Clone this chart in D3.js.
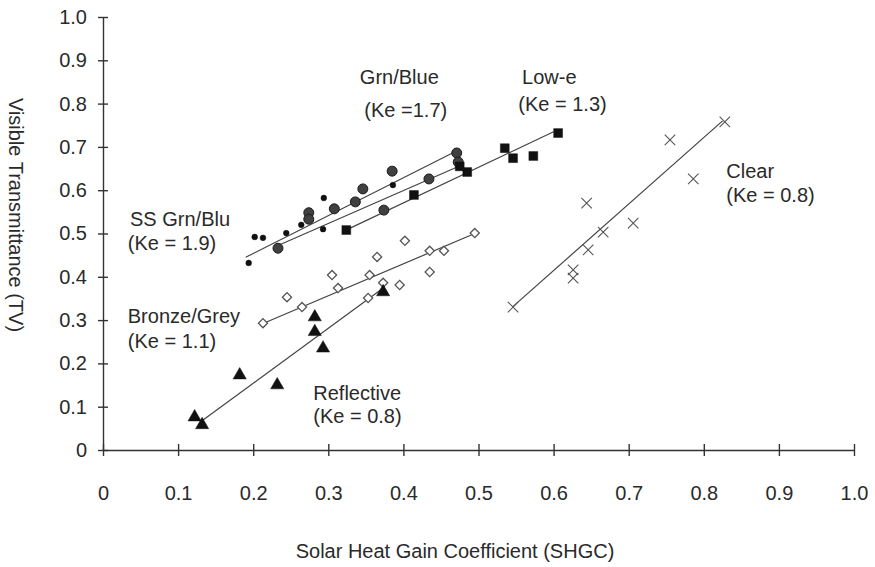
<!DOCTYPE html>
<html>
<head>
  <meta charset="utf-8">
  <title>Visible Transmittance vs. SHGC</title>
  <script src="https://d3js.org/d3.v7.min.js"></script>
  <style>
    body {
      margin: 0;
      background: #fff;
      font-family: "Liberation Sans", Arial, sans-serif;
    }
    .axis path, .axis line {
      stroke: #333;
      stroke-width: 1.4px;
    }
    .axis text {
      font-size: 20px;
      fill: #2a2a2a;
      font-family: "Liberation Sans", Arial, sans-serif;
    }
    .fit-line {
      stroke: #444;
      stroke-width: 1.2px;
    }
    .note {
      font-size: 20px;
      fill: #2a2a2a;
    }
    .axis-title {
      font-size: 20px;
      fill: #2a2a2a;
    }
  </style>
</head>
<body>
  <div id="chart"></div>

  <script>
    // values (SHGC, TV)
    const ssGrnBlu = [
      [0.194, 0.432], [0.202, 0.492], [0.213, 0.490], [0.244, 0.501],
      [0.264, 0.520], [0.293, 0.510], [0.294, 0.582], [0.386, 0.612]
    ];
    const grnBlue = [
      [0.233, 0.466], [0.274, 0.548], [0.274, 0.533], [0.308, 0.557],
      [0.336, 0.573], [0.346, 0.603], [0.385, 0.644], [0.434, 0.626],
      [0.471, 0.686], [0.473, 0.665], [0.374, 0.554]
    ];
    const lowE = [
      [0.324, 0.508], [0.414, 0.589], [0.485, 0.642], [0.475, 0.655],
      [0.535, 0.697], [0.546, 0.674], [0.573, 0.679], [0.606, 0.732]
    ];
    const bronzeGrey = [
      [0.213, 0.293], [0.245, 0.353], [0.265, 0.330], [0.305, 0.404],
      [0.313, 0.374], [0.355, 0.404], [0.365, 0.446], [0.373, 0.386],
      [0.395, 0.381], [0.402, 0.483], [0.435, 0.460], [0.454, 0.460],
      [0.435, 0.411], [0.495, 0.501], [0.353, 0.351]
    ];
    const reflective = [
      [0.122, 0.076], [0.132, 0.058], [0.182, 0.173], [0.232, 0.150],
      [0.282, 0.307], [0.282, 0.273], [0.293, 0.235], [0.373, 0.365]
    ];
    const clear = [
      [0.546, 0.330], [0.626, 0.397], [0.626, 0.416], [0.646, 0.462],
      [0.666, 0.503], [0.706, 0.524], [0.644, 0.570], [0.786, 0.626],
      [0.755, 0.716], [0.828, 0.758]
    ];

    // fitted lines, start and end point of each
    const fitLines = [
      [[0.190, 0.445], [0.470, 0.690]],   // SS Grn/Blu
      [[0.230, 0.470], [0.480, 0.660]],   // Grn/Blue
      [[0.320, 0.505], [0.600, 0.735]],   // Low-e
      [[0.210, 0.290], [0.495, 0.500]],   // Bronze/Grey
      [[0.130, 0.065], [0.370, 0.370]],   // Reflective
      [[0.545, 0.330], [0.825, 0.760]]    // Clear
    ];

    // annotation text and where it sits, in data units
    const noteTexts = [
      "Grn/Blue", "(Ke =1.7)", "Low-e", "(Ke = 1.3)", "Clear", "(Ke = 0.8)",
      "SS Grn/Blu", "(Ke = 1.9)", "Bronze/Grey", "(Ke = 1.1)", "Reflective", "(Ke = 0.8)"
    ];
    const noteX = [0.342, 0.348, 0.558, 0.553, 0.830, 0.830, 0.036, 0.033, 0.033, 0.033, 0.280, 0.280];
    const noteY = [0.845, 0.770, 0.845, 0.783, 0.628, 0.573, 0.517, 0.462, 0.293, 0.236, 0.115, 0.062];

    const xTicks = [0, 0.1, 0.2, 0.3, 0.4, 0.5, 0.6, 0.7, 0.8, 0.9, 1.0];
    const xTickLabels = ["0", "0.1", "0.2", "0.3", "0.4", "0.5", "0.6", "0.7", "0.8", "0.9", "1.0"];
    const yTicks = [0, 0.1, 0.2, 0.3, 0.4, 0.5, 0.6, 0.7, 0.8, 0.9, 1.0];
    const yTickLabels = ["0", "0.1", "0.2", "0.3", "0.4", "0.5", "0.6", "0.7", "0.8", "0.9", "1.0"];

    const W = 875, H = 567;
    const margin = { top: 17, right: 21, bottom: 117, left: 103 };

    const svg = d3.select("#chart")
      .append("svg")
      .attr("width", W)
      .attr("height", H);

    const x = d3.scaleLinear().domain([0, 1]).range([margin.left, W - margin.right]);
    const y = d3.scaleLinear().domain([0, 1]).range([H - margin.bottom, margin.top]);

    // y axis, ticks crossing the line
    const yAxis = svg.append("g")
      .attr("class", "axis")
      .attr("transform", `translate(${x(0)},0)`)
      .call(d3.axisLeft(y).tickValues(yTicks).tickSize(5).tickSizeOuter(0)
        .tickFormat((d, i) => yTickLabels[i]));
    yAxis.selectAll(".tick line").attr("x1", 5);
    yAxis.selectAll(".tick text").attr("x", -16);

    // x axis
    const xAxis = svg.append("g")
      .attr("class", "axis")
      .attr("transform", `translate(0,${y(0)})`)
      .call(d3.axisBottom(x).tickValues(xTicks).tickSize(6).tickSizeOuter(0)
        .tickFormat((d, i) => xTickLabels[i]));
    xAxis.selectAll(".tick line").attr("y1", -6);
    xAxis.selectAll(".tick text").attr("y", 36);

    // fitted lines
    svg.selectAll(".fit-line")
      .data(fitLines)
      .enter()
      .append("line")
      .attr("class", "fit-line")
      .attr("x1", d => x(d[0][0]))
      .attr("y1", d => y(d[0][1]))
      .attr("x2", d => x(d[1][0]))
      .attr("y2", d => y(d[1][1]));

    // one marker style per glass type
    const series = [
      { data: bronzeGrey, type: d3.symbolSquare, size: 42, fill: "#fff", stroke: "#555", sw: 1.3, rot: 45 },
      { data: reflective, type: d3.symbolTriangle, size: 75, fill: "#111", stroke: "#111", sw: 0.5, rot: 0 },
      { data: grnBlue, type: d3.symbolCircle, size: 78, fill: "#404040", stroke: "#1a1a1a", sw: 1, rot: 0 },
      { data: ssGrnBlu, type: d3.symbolCircle, size: 26, fill: "#111", stroke: "#111", sw: 0.5, rot: 0 },
      { data: lowE, type: d3.symbolSquare, size: 78, fill: "#111", stroke: "#111", sw: 0.5, rot: 0 },
      { data: clear, type: d3.symbolCross, size: 110, fill: "none", stroke: "#555", sw: 1.1, rot: 0 }
    ];

    series.forEach(s => {
      const sym = d3.symbol().type(s.type).size(s.size);
      let path = sym();
      if (s.type === d3.symbolCross) {
        // thin X drawn as two strokes
        const r = Math.sqrt(s.size) / 2;
        path = `M${-r},${-r}L${r},${r}M${-r},${r}L${r},${-r}`;
      }
      svg.append("g")
        .selectAll("path")
        .data(s.data)
        .enter()
        .append("path")
        .attr("d", path)
        .attr("transform", d => `translate(${x(d[0])},${y(d[1])}) rotate(${s.rot})`)
        .attr("fill", s.fill)
        .attr("stroke", s.stroke)
        .attr("stroke-width", s.sw);
    });

    // annotations
    svg.selectAll(".note")
      .data(noteTexts)
      .enter()
      .append("text")
      .attr("class", "note")
      .attr("x", (d, i) => x(noteX[i]))
      .attr("y", (d, i) => y(noteY[i]))
      .text(d => d);

    // axis titles
    svg.append("text")
      .attr("class", "axis-title")
      .attr("x", 455)
      .attr("y", 558)
      .style("text-anchor", "middle")
      .text("Solar Heat Gain Coefficient (SHGC)");

    svg.append("text")
      .attr("class", "axis-title")
      .attr("transform", "translate(9,215) rotate(90)")
      .style("text-anchor", "middle")
      .text("Visible Transmittance (TV)");
  </script>
</body>
</html>
